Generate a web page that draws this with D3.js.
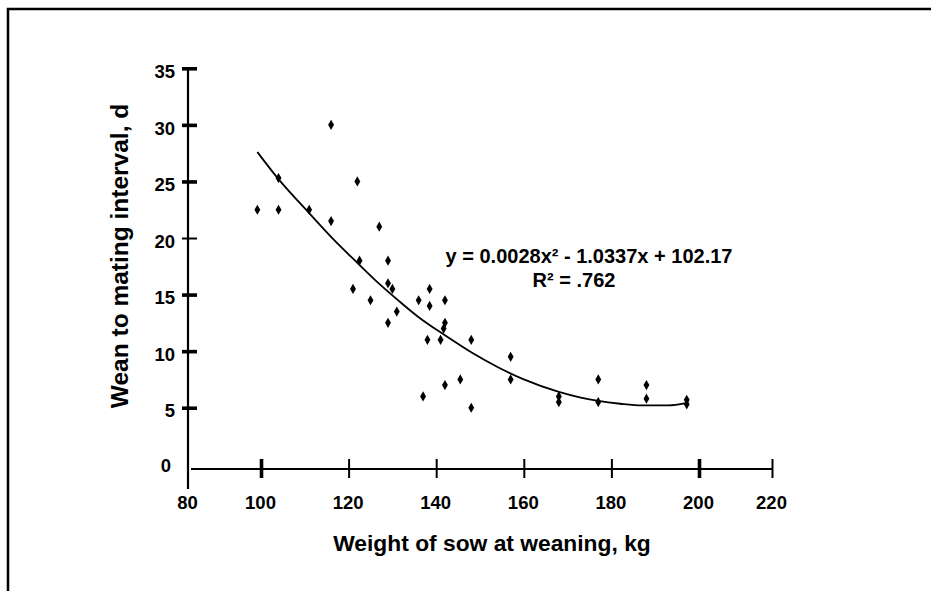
<!DOCTYPE html>
<html>
<head>
<meta charset="utf-8">
<script src="https://cdn.jsdelivr.net/npm/d3@7"></script>
<style>
  body { margin: 0; background: #fff; }
  svg text { font-family: Arial, "Liberation Sans", sans-serif; font-weight: bold; fill: #000; }
</style>
</head>
<body>
<svg id="chart" width="931" height="591"></svg>
<script>
// sow weight at weaning (kg) and wean-to-mating interval (d)
var weightKg = [99, 104, 104, 111, 116, 116, 122, 122.5, 127, 129, 121, 125, 129, 130, 131, 129,
                136, 138.5, 138.5, 142, 142, 141.7, 138, 141, 148, 137, 142, 145.5, 148,
                157, 157, 168, 168, 177, 177, 188, 188, 197.2, 197.2];
var intervalDays = [22.5, 22.5, 25.3, 22.5, 30, 21.5, 25, 18, 21, 18, 15.5, 14.5, 16, 15.5, 13.5, 12.5,
                    14.5, 15.5, 14, 14.5, 12.5, 12, 11, 11, 11, 6, 7, 7.5, 5,
                    9.5, 7.5, 6, 5.5, 7.5, 5.5, 7, 5.8, 5.7, 5.3];
// fitted curve as drawn in the figure
var trendX = [99, 104, 111, 117, 122, 126, 131, 136, 142, 148, 154, 160, 168, 173, 177, 182, 187, 193, 197];
var trendY = [27.6, 25.2, 22.2, 19.7, 17.8, 16.3, 14.6, 13.0, 11.4, 9.9, 8.6, 7.5, 6.4, 5.9, 5.6, 5.35, 5.2, 5.2, 5.4];

var xTicks = [80, 100, 120, 140, 160, 180, 200, 220];
var yTicks = [0, 5, 10, 15, 20, 25, 30, 35];
var equation = "y = 0.0028x² - 1.0337x + 102.17";
var rSquared = "R² = .762";

var svg = d3.select("#chart");

// frame: only top and left edges show
svg.append("path").attr("d", "M8,591V9H931").attr("fill", "none").attr("stroke", "#000").attr("stroke-width", 2.5);

var x = d3.scaleLinear().domain([80, 100, 200, 220]).range([188, 261, 699, 772]);
var y = d3.scaleLinear().domain([0, 35]).range([464.3, 68.3]);
var axisY = 469;

// y axis
svg.append("line").attr("x1", 188).attr("x2", 188).attr("y1", 67).attr("y2", 489)
  .attr("stroke", "#000").attr("stroke-width", 2.2);
var gy = svg.append("g").attr("transform", "translate(188,0)")
  .call(d3.axisLeft(y).tickValues(yTicks.filter(function(d) { return d > 0; })).tickSizeOuter(0));
gy.select(".domain").remove();
gy.attr("font-family", null).attr("font-size", null);
gy.selectAll(".tick line").attr("x1", -6).attr("x2", 9)
  .attr("stroke-width", function(d) { return d == 20 ? 2 : 3.6; });
gy.selectAll(".tick text").attr("x", -13).attr("dy", "0.66em").attr("y", -3)
  .style("font-size", "18.5px");
svg.append("text").attr("x", 171).attr("y", y(0) + 8).attr("text-anchor", "end")
  .style("font-size", "18.5px").text("0");

// x axis
svg.append("line").attr("x1", 191).attr("x2", 772).attr("y1", axisY).attr("y2", axisY)
  .attr("stroke", "#000").attr("stroke-width", 2.2);
var gx = svg.append("g").attr("transform", "translate(0," + axisY + ")")
  .call(d3.axisBottom(x).tickValues(xTicks).tickFormat(d3.format("d")).tickSizeOuter(0));
gx.select(".domain").remove();
gx.attr("font-family", null).attr("font-size", null);
gx.selectAll(".tick line").attr("y1", -10).attr("y2", 9)
  .attr("stroke-width", function(d) { return (d == 100 || d == 200) ? 3.6 : 2; })
  .attr("display", function(d) { return d == 80 ? "none" : null; });
gx.selectAll(".tick text").attr("y", 40).attr("dy", null).attr("x", -1)
  .style("font-size", "18.5px");

// axis titles
svg.append("text").attr("transform", "translate(128,256) rotate(-90)").attr("text-anchor", "middle")
  .style("font-size", "24.5px").text("Wean to mating interval, d");
svg.append("text").attr("x", 492).attr("y", 551).attr("text-anchor", "middle")
  .style("font-size", "22.8px").text("Weight of sow at weaning, kg");

// trend curve
var trend = trendX.map(function(d, i) { return [d, trendY[i]]; });
var line = d3.line()
  .x(function(d) { return x(d[0]); })
  .y(function(d) { return y(d[1]); })
  .curve(d3.curveMonotoneX);
svg.append("path").datum(trend).attr("d", line)
  .attr("fill", "none").attr("stroke", "#000").attr("stroke-width", 1.8);

// points
var pts = weightKg.map(function(d, i) { return [d, intervalDays[i]]; });
svg.append("g").selectAll("path").data(pts).enter().append("path")
  .attr("transform", function(d) { return "translate(" + x(d[0]) + "," + y(d[1]) + ")"; })
  .attr("d", d3.symbol().type(d3.symbolDiamond).size(30))
  .attr("fill", "#000");

// equation
svg.append("text").attr("x", 589).attr("y", 263).attr("text-anchor", "middle")
  .style("font-size", "20px").text(equation);
svg.append("text").attr("x", 574).attr("y", 287).attr("text-anchor", "middle")
  .style("font-size", "20px").text(rSquared);
</script>
</body>
</html>
